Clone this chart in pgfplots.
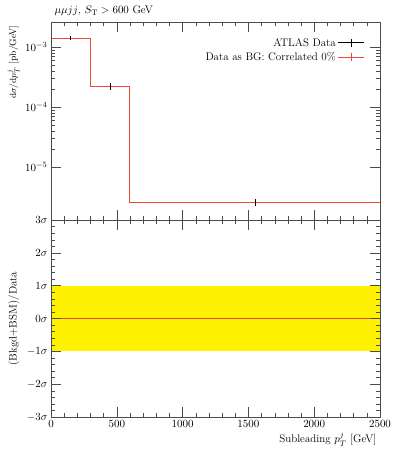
\documentclass[border=0pt]{standalone}
\usepackage{pgfplots}
\pgfplotsset{compat=1.18}
\definecolor{rivred}{RGB}{235,75,50}
\pgfplotsset{
  redleg/.style={legend image code/.code={\draw[color=rivred, line width=1pt, solid] (0pt,0pt) -- (26pt,0pt); \draw[color=rivred, line width=1pt, solid] (13pt,-4pt) -- (13pt,4pt);}},
  blackleg/.style={legend image code/.code={\draw[color=black, line width=0.9pt, solid] (0pt,0pt) -- (26pt,0pt); \draw[color=black, line width=0.9pt, solid] (13pt,-4pt) -- (13pt,4pt);}},
}
\begin{document}
\begin{tikzpicture}
\useasboundingbox (-51pt,-33pt) rectangle (341pt,417pt);
\pgfplotsset{every axis/.append style={
  scale only axis, width=329pt, xmin=0, xmax=2500,
  tick align=inside, tick pos=both,
  major tick length=10pt, minor tick length=4pt,
  axis line style={black!70}, every tick/.style={black!70},
  xtick={0,500,...,2500}, minor x tick num=4,
  tick label style={font=\fontsize{11}{13}\selectfont},
  label style={font=\fontsize{11}{13}\selectfont},
  /pgf/number format/1000 sep={},
  axis on top,
}}
\begin{axis}[name=lower, at={(0,0)}, anchor=south west, height=197pt,
  ymin=-3, ymax=3, ytick={-3,...,3},
  yticklabels={$-3\sigma$,$-2\sigma$,$-1\sigma$,$0\sigma$,$1\sigma$,$2\sigma$,$3\sigma$},
  minor y tick num=4,
  xlabel={Subleading $p_T^j$ [GeV]},
  xlabel style={at={(axis description cs:1,0)}, anchor=base east, yshift=-26pt},
  ylabel={(Bkgd+BSM)/Data},
  ylabel style={at={(axis description cs:-0.085,0.5)}, anchor=south},
]
\addplot[fill=yellow, draw=none] coordinates {(0,-1) (2500,-1) (2500,1) (0,1)} -- cycle;
\addplot[rivred, line width=1pt] coordinates {(0,0) (2500,0)};
\end{axis}
\begin{axis}[name=upper, at={(0,197pt)}, anchor=south west, height=198pt,
  ymode=log, ymin=1.318e-6, ymax=2.63e-3, ytick={1e-5,1e-4,1e-3},
  xticklabels={},
  ylabel={$\mathrm{d}\sigma/\mathrm{d}p_T^j$ [pb/GeV]},
  ylabel style={at={(axis description cs:-0.085,1)}, anchor=south east, font=\fontsize{9.5}{11}\selectfont},
  legend style={at={(1,1)}, anchor=north east, xshift=-12pt, yshift=-12pt, draw=none, fill=none, row sep=1pt, font=\fontsize{11}{13}\selectfont},
  legend cell align=right, legend plot pos=right, reverse legend,
]
\addplot[rivred, line width=1pt, const plot, redleg] coordinates {(0,1.41e-3) (300,2.24e-4) (600,2.58e-6) (2500,2.58e-6)};
\addlegendentry{Data as BG: Correlated 0\%}
\addplot[mark=none, draw=none, blackleg, error bars/.cd, y dir=both, y explicit, error mark=none, error bar style={draw=black, solid, line width=0.8pt}]
  coordinates {(150,1.41e-3) +- (0,1.1e-4) (450,2.24e-4) +- (0,2.9e-5) (1550,2.58e-6) +- (0,3.3e-7)};
\addlegendentry{ATLAS Data}
\end{axis}
\node[anchor=base west, font=\fontsize{11}{13}\selectfont] at ([yshift=8pt]upper.north west) {$\mu\mu jj$, $S_\mathrm{T} > 600$ GeV};
\end{tikzpicture}
\end{document}
